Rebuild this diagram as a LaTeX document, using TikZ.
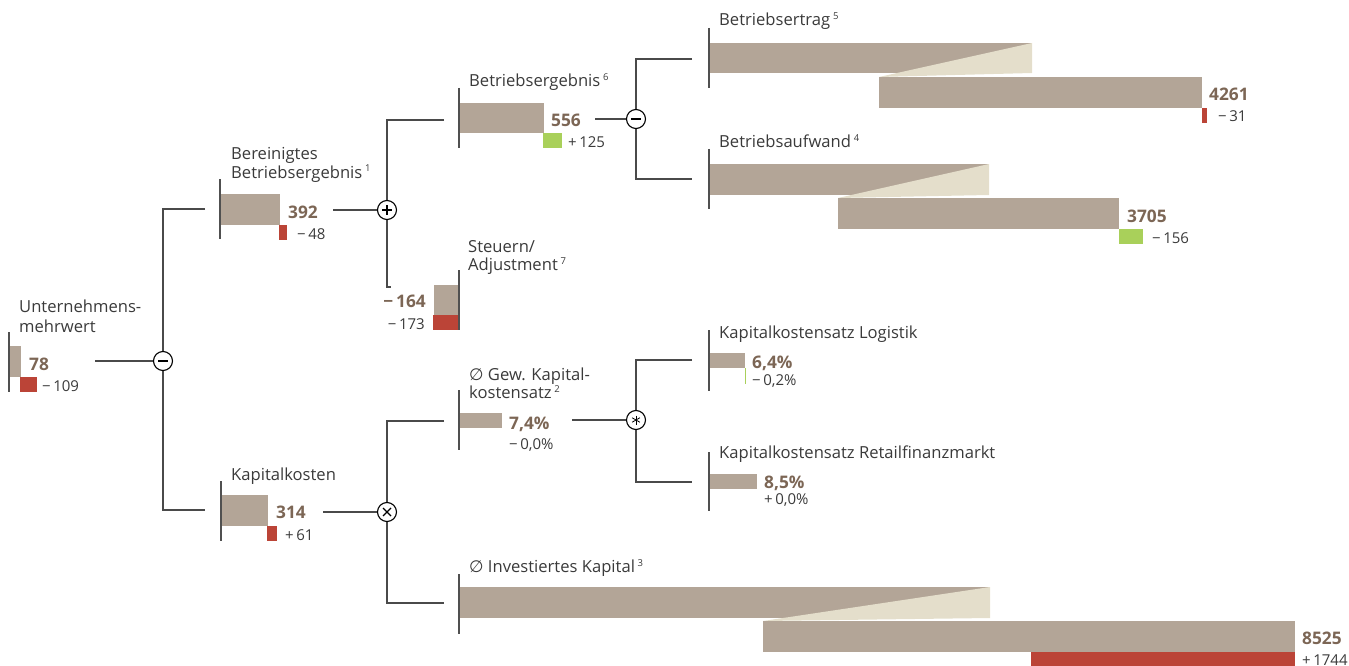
\documentclass[tikz,border=0pt]{standalone}
\usepackage{fontspec}
\setmainfont{Open Sans}
\newfontfamily\symfont{DejaVu Sans}
\definecolor{taupe}{HTML}{B3A597}
\definecolor{lightw}{HTML}{E4DECB}
\definecolor{redd}{HTML}{BB4437}
\definecolor{greenn}{HTML}{A9D05A}
\definecolor{numc}{HTML}{7C6655}
\definecolor{txt}{HTML}{3A3A3A}
\definecolor{linec}{HTML}{4A4A4A}
\definecolor{axc}{HTML}{505050}
\newcommand{\sups}[1]{\,{\fontsize{9.5}{9.5}\selectfont\raisebox{6pt}{#1}}}
\newcommand{\dia}{{\symfont ∅}}
\begin{document}
\begin{tikzpicture}[x=1pt,y=-1pt,
  lbl/.style={anchor=base west, inner sep=0, font=\fontsize{16.6}{19}\selectfont, text=txt},
  lblr/.style={anchor=base east, inner sep=0, font=\fontsize{15}{17}\selectfont, text=txt},
  val/.style={anchor=base west, inner sep=0, font=\fontsize{17.3}{20}\selectfont\bfseries, text=numc},
  valr/.style={anchor=base east, inner sep=0, font=\fontsize{17.3}{20}\selectfont\bfseries, text=numc},
  dlt/.style={anchor=base west, inner sep=0, font=\fontsize{15}{17}\selectfont, text=txt},
  axisl/.style={draw=axc, line width=1.4pt},
  conn/.style={draw=linec, line width=1.1pt},
  op/.style={circle, draw=black, line width=1.1pt, fill=white, minimum size=19pt, inner sep=0},
  sign/.style={draw=black, line width=1.1pt},
  valbar/.style={fill=taupe},
  wedgebar/.style={fill=lightw},
  negbar/.style={fill=redd},
  posbar/.style={fill=greenn}]
\useasboundingbox (0,0) rectangle (1349,666);

% ---------- bars ----------
% Unternehmensmehrwert
\fill[valbar] (9,346) rectangle (21,377);
\fill[negbar] (20,377) rectangle (37,392);
% Bereinigtes Betriebsergebnis
\fill[valbar] (220,194) rectangle (280,225);
\fill[negbar] (279,225) rectangle (287,240);
% Steuern
\fill[valbar] (434,285) rectangle (459,315);
\fill[negbar] (433,315) rectangle (459,330);
% Betriebsergebnis
\fill[valbar] (459,103) rectangle (544,133);
\fill[posbar] (543,133) rectangle (562,148);
% Betriebsertrag
\fill[valbar] (709,43) rectangle (1032,73);
\fill[wedgebar] (879,77) -- (1032,43) -- (1032,73) -- cycle;
\fill[valbar] (879,77) rectangle (1202,108);
\fill[negbar] (1202,108) rectangle (1207,123);
% Betriebsaufwand
\fill[valbar] (709,164) rectangle (989,195);
\fill[wedgebar] (838,198) -- (989,164) -- (989,195) -- cycle;
\fill[valbar] (838,198) rectangle (1119,229);
\fill[posbar] (1119,229) rectangle (1143,244);
% Kapitalkosten
\fill[valbar] (221,495) rectangle (268,526);
\fill[negbar] (267,526) rectangle (277,541);
% Gew. Kapitalkostensatz
\fill[valbar] (459,413) rectangle (502,428);
% Logistik
\fill[valbar] (709,353) rectangle (745,368);
\draw[greenn, line width=1pt] (745,368) -- (745,384);
% Retailfinanzmarkt
\fill[valbar] (709,474) rectangle (757,489);
% Investiertes Kapital
\fill[valbar] (459,587) rectangle (990,618);
\fill[wedgebar] (763,621) -- (990,587) -- (990,618) -- cycle;
\fill[valbar] (763,621) rectangle (1295,652);
\fill[negbar] (1031,652) rectangle (1295,667);

% ---------- axes ----------
\draw[axisl] (9,332) -- (9,392);
\draw[axisl] (220,179) -- (220,239);
\draw[axisl] (459,270) -- (459,330);
\draw[axisl] (459,88) -- (459,148);
\draw[axisl] (709,28) -- (709,88);
\draw[axisl] (709,149) -- (709,209);
\draw[axisl] (221,481) -- (221,541);
\draw[axisl] (459,390) -- (459,450);
\draw[axisl] (709,330) -- (709,391);
\draw[axisl] (709,452) -- (709,511);
\draw[axisl] (459,574) -- (459,634);

% ---------- connector end points ----------
\coordinate (uR) at (95,361);
\coordinate (bbIn) at (205,209);
\coordinate (bbR) at (333,210);
\coordinate (kkIn) at (205,510);
\coordinate (kkR) at (323,512);
\coordinate (beIn) at (444,120);
\coordinate (beR) at (595,119);
\coordinate (stIn) at (391,287);
\coordinate (etIn) at (692,59);
\coordinate (afIn) at (692,179);
\coordinate (gwIn) at (444,421);
\coordinate (gwR) at (572,420);
\coordinate (ivIn) at (444,603);
\coordinate (loIn) at (692,360);
\coordinate (reIn) at (692,482);

% ---------- operators ----------
\coordinate (o1c) at (163,361);
\coordinate (o2c) at (387,210);
\coordinate (o3c) at (636,119);
\coordinate (o4c) at (387,512);
\coordinate (o5c) at (636,420);

\draw[conn] (bbIn) -| (o1c) |- (kkIn);
\draw[conn] (beIn) -| (o2c) |- (stIn);
\draw[conn] (etIn) -| (o3c) |- (afIn);
\draw[conn] (gwIn) -| (o4c) |- (ivIn);
\draw[conn] (loIn) -| (o5c) |- (reIn);

\node[op] (o1) at (o1c) {};
\node[op] (o2) at (o2c) {};
\node[op] (o3) at (o3c) {};
\node[op] (o4) at (o4c) {};
\node[op] (o5) at (o5c) {};

\draw[conn] (uR) -- (o1);
\draw[conn] (bbR) -- (o2);
\draw[conn] (beR) -- (o3);
\draw[conn] (kkR) -- (o4);
\draw[conn] (gwR) -- (o5);

% signs
\draw[sign, line width=2.4pt] (o1.center) ++(-5,0) -- ++(10,0);
\draw[sign] (o2.center) ++(-5,0) -- ++(10,0);
\draw[sign] (o2.center) ++(0,-5) -- ++(0,10);
\draw[sign, line width=2.4pt] (o3.center) ++(-5,0) -- ++(10,0);
\draw[sign] (o4.center) ++(-4,-4) -- ++(8,8);
\draw[sign] (o4.center) ++(-4,4) -- ++(8,-8);
\draw[sign, line width=0.8pt] (o5.center) ++(0,-4.5) -- ++(0,9);
\draw[sign, line width=0.8pt] (o5.center) ++(-3.9,-2.25) -- ++(7.8,4.5);
\draw[sign, line width=0.8pt] (o5.center) ++(-3.9,2.25) -- ++(7.8,-4.5);

% ---------- labels ----------
\node[lbl] (lu1) at (19,312) {Unternehmens-};
\node[lbl] (lu2) at (19,332) {mehrwert};
\node[val] (vu) at (29,370) {78};
\node[dlt] (du) at (42,391) {−\,109};

\node[lbl] (lb1) at (231,160) {Bereinigtes};
\node[lbl] (lb2) at (231,178) {Betriebsergebnis\sups{1}};
\node[val] (vb) at (288,218) {392};
\node[dlt] (db) at (297,239) {−\,48};

\node[lbl] (ls1) at (468,252) {Steuern/};
\node[lbl] (ls2) at (468,270) {Adjustment\sups{7}};
\node[valr] (vs) at (426,307) {−\,164};
\node[lblr] (ds) at (425,329) {−\,173};

\node[lbl] (le) at (469,87) {Betriebsergebnis\sups{6}};
\node[val] (ve) at (551,127) {556};
\node[dlt] (de) at (568,147) {+\,125};

\node[lbl] (lt) at (719,26) {Betriebsertrag\sups{5}};
\node[val] (vt) at (1209,101) {4261};
\node[dlt] (dt) at (1218,122) {−\,31};

\node[lbl] (la) at (719,148) {Betriebsaufwand\sups{4}};
\node[val] (va) at (1127,222) {3705};
\node[dlt] (da) at (1152,243) {−\,156};

\node[lbl] (lk) at (231,480) {Kapitalkosten};
\node[val] (vk) at (276,518) {314};
\node[dlt] (dk) at (285,540) {+\,61};

\node[lbl] (lg1) at (469,380) {\dia\ Gew. Kapital-};
\node[lbl] (lg2) at (469,398) {kostensatz\sups{2}};
\node[val] (vg) at (509,429) {7,4\%};
\node[dlt] (dg) at (509,449) {−\,0,0\%};

\node[lbl] (ll) at (719,338) {Kapitalkostensatz Logistik};
\node[val] (vl) at (752,368) {6,4\%};
\node[dlt] (dl) at (752,385) {−\,0,2\%};

\node[lbl] (lr) at (719,458) {Kapitalkostensatz Retailfinanzmarkt};
\node[val] (vr) at (764,488) {8,5\%};
\node[dlt] (dr) at (764,504) {+\,0,0\%};

\node[lbl] (li) at (469,572) {\dia\ Investiertes Kapital\sups{3}};
\node[val] (vi) at (1302,644) {8525};
\node[dlt] (di) at (1302,665) {+\,1744};
\end{tikzpicture}
\end{document}
